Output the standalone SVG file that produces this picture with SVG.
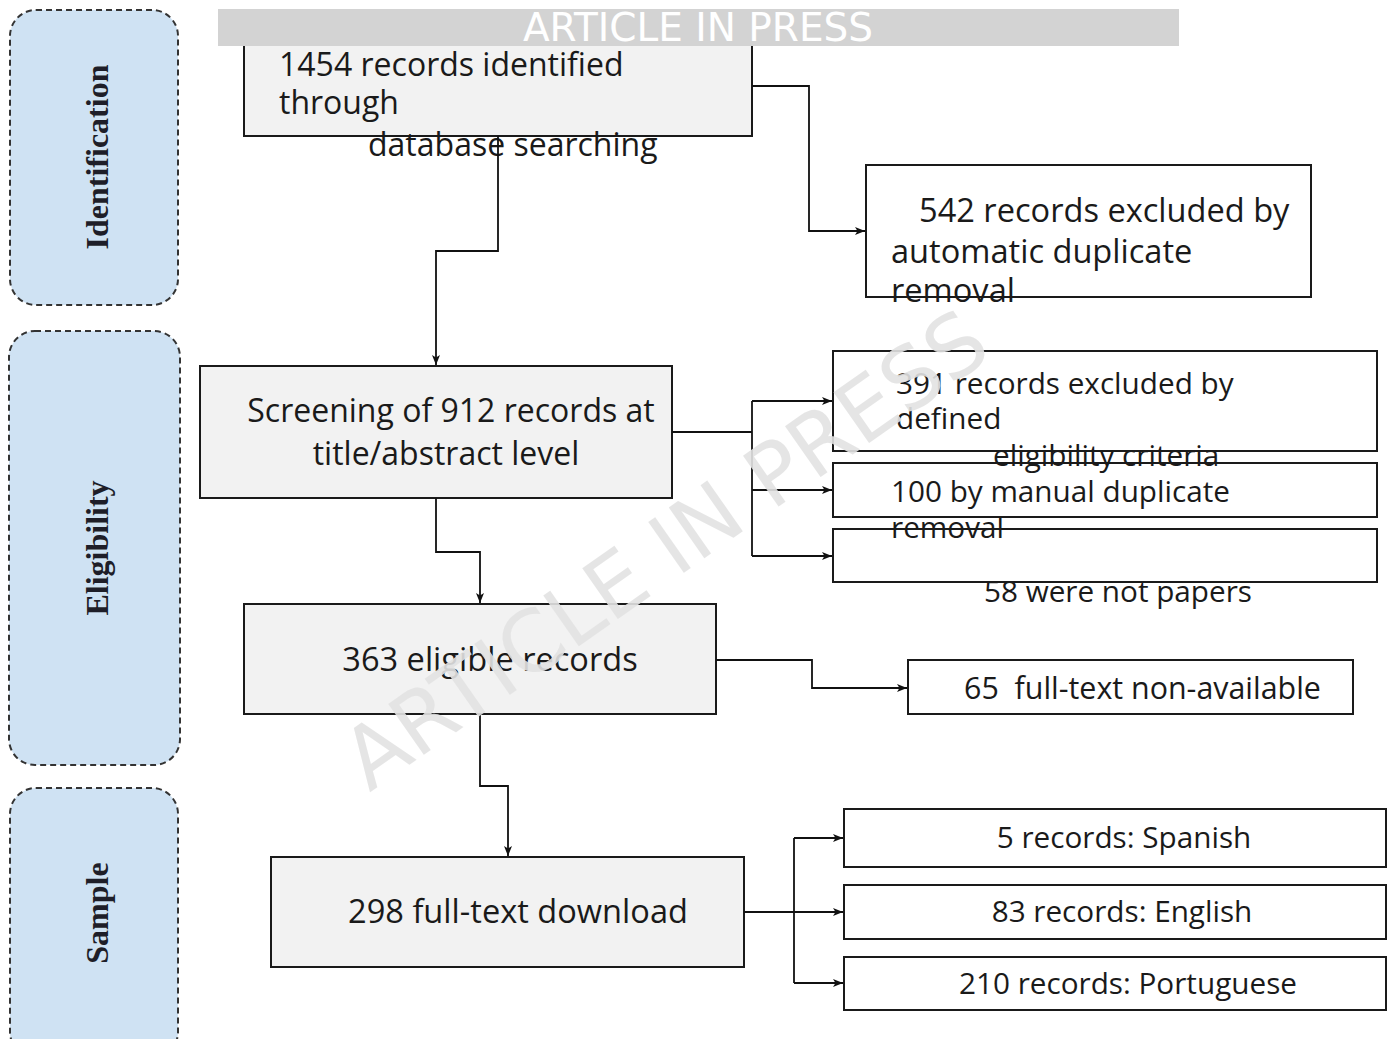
<svg xmlns="http://www.w3.org/2000/svg" width="1387" height="1039" viewBox="0 0 1387 1039">
  <style>
    .panel { fill: #cfe2f3; stroke: #333; stroke-width: 2; stroke-dasharray: 6 4; }
    .plabel { font-family: "Liberation Serif", "Times New Roman", serif; font-weight: bold; font-size: 32px; fill: #1e1e28; text-anchor: middle; }
    .main { fill: #f2f2f2; stroke: #1a1a1a; stroke-width: 2; }
    .side { fill: none; stroke: #1a1a1a; stroke-width: 2; }
    .t { font-family: "Open Sans", "Noto Sans", "Liberation Sans", sans-serif; font-size: 32px; fill: #1a1a1a; white-space: pre; }
    .s { font-size: 29.7px; }
    .m { font-size: 30.4px; }
    .l { font-size: 32.6px; }
    .c { text-anchor: middle; }
    .conn { fill: none; stroke: #111; stroke-width: 1.8; }
    .banner { fill: #d3d3d3; }
    .btext { font-family: "DejaVu Sans", sans-serif; font-size: 39px; fill: #ffffff; text-anchor: middle; }
    .wm { font-family: "DejaVu Sans", sans-serif; font-size: 85px; fill: #e2e2e2; fill-opacity: 0.9; text-anchor: middle; }
  </style>
  <defs>
    <marker id="arr" markerUnits="userSpaceOnUse" markerWidth="11" markerHeight="9" refX="10" refY="4" orient="auto">
      <path d="M0,0 L10,4 L0,8 L2.5,4 z" fill="#111"/>
    </marker>
  </defs>

  <rect width="1387" height="1039" fill="#ffffff"/>

  <g id="panel-identification">
    <rect class="panel" x="10" y="10" width="168" height="295" rx="26" ry="26"/>
    <text class="plabel" transform="translate(108,157) rotate(-90)">Identification</text>
  </g>
  <g id="panel-eligibility">
    <rect class="panel" x="9" y="331" width="171" height="434" rx="26" ry="26"/>
    <text class="plabel" transform="translate(108,548) rotate(-90)">Eligibility</text>
  </g>
  <g id="panel-sample">
    <rect class="panel" x="10" y="788" width="168" height="270" rx="26" ry="26"/>
    <text class="plabel" transform="translate(108,913) rotate(-90)">Sample</text>
  </g>

  <g id="node-identified">
    <rect class="main" x="244" y="36" width="508" height="100"/>
    <text class="t" x="279" y="76">1454 records identified</text>
    <text class="t" x="279" y="114">through</text>
    <text class="t" x="368" y="156">database searching</text>
  </g>

  <g id="node-auto-dup">
    <text class="t l" x="919" y="222">542 records excluded by</text>
    <text class="t l" x="891" y="263">automatic duplicate</text>
    <text class="t l" x="891" y="302">removal</text>
    <rect class="side" x="866" y="165" width="445" height="132"/>
  </g>

  <g id="node-screening">
    <rect class="main" x="200" y="366" width="472" height="132"/>
    <text class="t c" x="451" y="422">Screening of 912 records at</text>
    <text class="t c" x="446" y="465">title/abstract level</text>
  </g>

  <g id="node-excl-391">
    <text class="t s" x="896" y="394">391 records excluded by</text>
    <text class="t s" x="896" y="429">defined</text>
    <text class="t s" x="993" y="466">eligibility criteria</text>
    <rect class="side" x="833" y="351" width="544" height="100"/>
  </g>

  <g id="node-excl-100">
    <text class="t s" x="891" y="502">100 by manual duplicate</text>
    <text class="t s" x="891" y="538">removal</text>
    <rect class="side" x="833" y="463" width="544" height="54"/>
  </g>

  <g id="node-excl-58">
    <text class="t s" x="984" y="602">58 were not papers</text>
    <rect class="side" x="833" y="529" width="544" height="53"/>
  </g>

  <g id="node-eligible">
    <rect class="main" x="244" y="604" width="472" height="110"/>
    <text class="t c l" x="490" y="671">363 eligible records</text>
  </g>

  <g id="node-nonavailable">
    <text class="t m" x="964" y="699">65  full-text non-available</text>
    <rect class="side" x="908" y="660" width="445" height="54"/>
  </g>

  <g id="node-download">
    <rect class="main" x="271" y="857" width="473" height="110"/>
    <text class="t c l" x="518" y="923">298 full-text download</text>
  </g>

  <g id="node-spanish">
    <text class="t c s" x="1124" y="848">5 records: Spanish</text>
    <rect class="side" x="844" y="809" width="542" height="58"/>
  </g>
  <g id="node-english">
    <text class="t c s" x="1122" y="922">83 records: English</text>
    <rect class="side" x="844" y="885" width="542" height="54"/>
  </g>
  <g id="node-portuguese">
    <text class="t c s" x="1128" y="994">210 records: Portuguese</text>
    <rect class="side" x="844" y="957" width="542" height="53"/>
  </g>

  <g id="connectors">
    <path class="conn" d="M752,86 H809 V231 H865" marker-end="url(#arr)"/>
    <path class="conn" d="M498,136 V251 H436 V365" marker-end="url(#arr)"/>
    <path class="conn" d="M672,432 H752"/>
    <path class="conn" d="M752,401 V556"/>
    <path class="conn" d="M752,401 H832" marker-end="url(#arr)"/>
    <path class="conn" d="M752,490 H832" marker-end="url(#arr)"/>
    <path class="conn" d="M752,556 H832" marker-end="url(#arr)"/>
    <path class="conn" d="M436,498 V552 H480 V603" marker-end="url(#arr)"/>
    <path class="conn" d="M716,660 H812 V688 H907" marker-end="url(#arr)"/>
    <path class="conn" d="M480,714 V786 H508 V856" marker-end="url(#arr)"/>
    <path class="conn" d="M744,912 H794"/>
    <path class="conn" d="M794,838 V983"/>
    <path class="conn" d="M794,838 H843" marker-end="url(#arr)"/>
    <path class="conn" d="M794,912 H843" marker-end="url(#arr)"/>
    <path class="conn" d="M794,983 H843" marker-end="url(#arr)"/>
  </g>

  <g id="banner">
    <rect class="banner" x="218" y="9" width="961" height="37"/>
    <text class="btext" x="698" y="41">ARTICLE IN PRESS</text>
  </g>

  <text class="wm" transform="translate(682,574) rotate(-35)">ARTICLE IN PRESS</text>
</svg>
